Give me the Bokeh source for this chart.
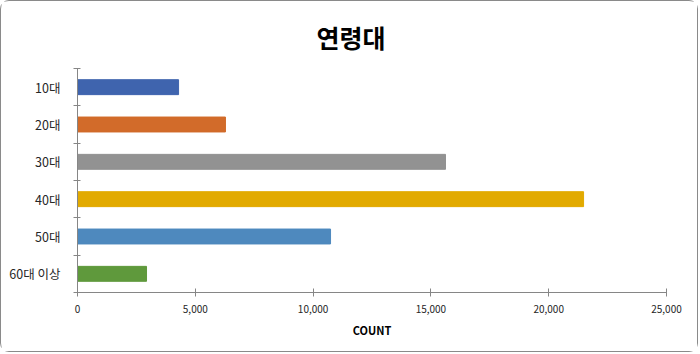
from bokeh.plotting import figure
from bokeh.models import FixedTicker, NumeralTickFormatter, ColumnDataSource, Range1d
from bokeh.embed import file_html
from bokeh.resources import INLINE

title_text = "연령대"
categories = ["10대", "20대", "30대", "40대", "50대", "60대 이상"]
counts = [4290, 6280, 15620, 21480, 10740, 2930]
colors = ["#3F64AE", "#D26B2A", "#929292", "#E2AA00", "#4E89BE", "#5F993C"]
x_ticks = [0, 5000, 10000, 15000, 20000, 25000]

n = len(categories)
pos = [i + 0.5 for i in range(n)]
src = ColumnDataSource(dict(y=pos, cnt=counts, color=colors, cat=categories))

p = figure(width=698, height=352, output_backend="svg", toolbar_location=None,
           x_range=Range1d(0, 25000), y_range=Range1d(n, 0),
           min_border_left=76, min_border_right=33, min_border_top=67, min_border_bottom=61)
p.styles = {"border": "1px solid #8a8a8a", "border-radius": "9px"}

p.hbar(y="y", right="cnt", left=0, height=0.4, color="color", source=src)

p.title.text = title_text
p.title.align = "left"
p.title.offset = 239
p.title.standoff = 28
p.title.text_font = "Noto Sans CJK KR"
p.title.text_font_size = "25px"
p.title.text_font_style = "bold"
p.title.text_color = "#000000"

p.outline_line_color = None
p.xgrid.grid_line_color = None
p.ygrid.grid_line_color = None
p.background_fill_color = "white"
p.border_fill_color = "white"

xa = p.xaxis[0]
xa.ticker = FixedTicker(ticks=x_ticks)
xa.formatter = NumeralTickFormatter(format="0,0")
xa.axis_label = "COUNT"
xa.axis_label_text_font = "Noto Sans CJK KR"
xa.axis_label_text_font_size = "11px"
xa.axis_label_text_font_style = "bold"
xa.axis_label_text_color = "#000000"
xa.axis_label_standoff = 6
xa.major_label_text_font = "Noto Sans CJK KR"
xa.major_label_text_font_size = "10px"
xa.major_label_text_color = "#262626"
xa.major_label_standoff = 8
xa.axis_line_color = "#868686"
xa.major_tick_line_color = "#868686"
xa.major_tick_in = 4
xa.major_tick_out = 4
xa.minor_tick_line_color = None

ya = p.yaxis[0]
ya.ticker = FixedTicker(ticks=pos, minor_ticks=list(range(n + 1)))
ya.major_label_overrides = {pp: c for pp, c in zip(pos, categories)}
ya.major_label_text_font = "Noto Sans CJK KR"
ya.major_label_text_font_size = "12.5px"
ya.major_label_text_color = "#262626"
ya.major_label_standoff = 13
ya.axis_line_color = "#868686"
ya.major_tick_line_color = None
ya.major_tick_in = 0
ya.major_tick_out = 0
ya.minor_tick_line_color = "#868686"
ya.minor_tick_in = 3
ya.minor_tick_out = 4

open("out.html", "w").write(file_html(p, INLINE))
